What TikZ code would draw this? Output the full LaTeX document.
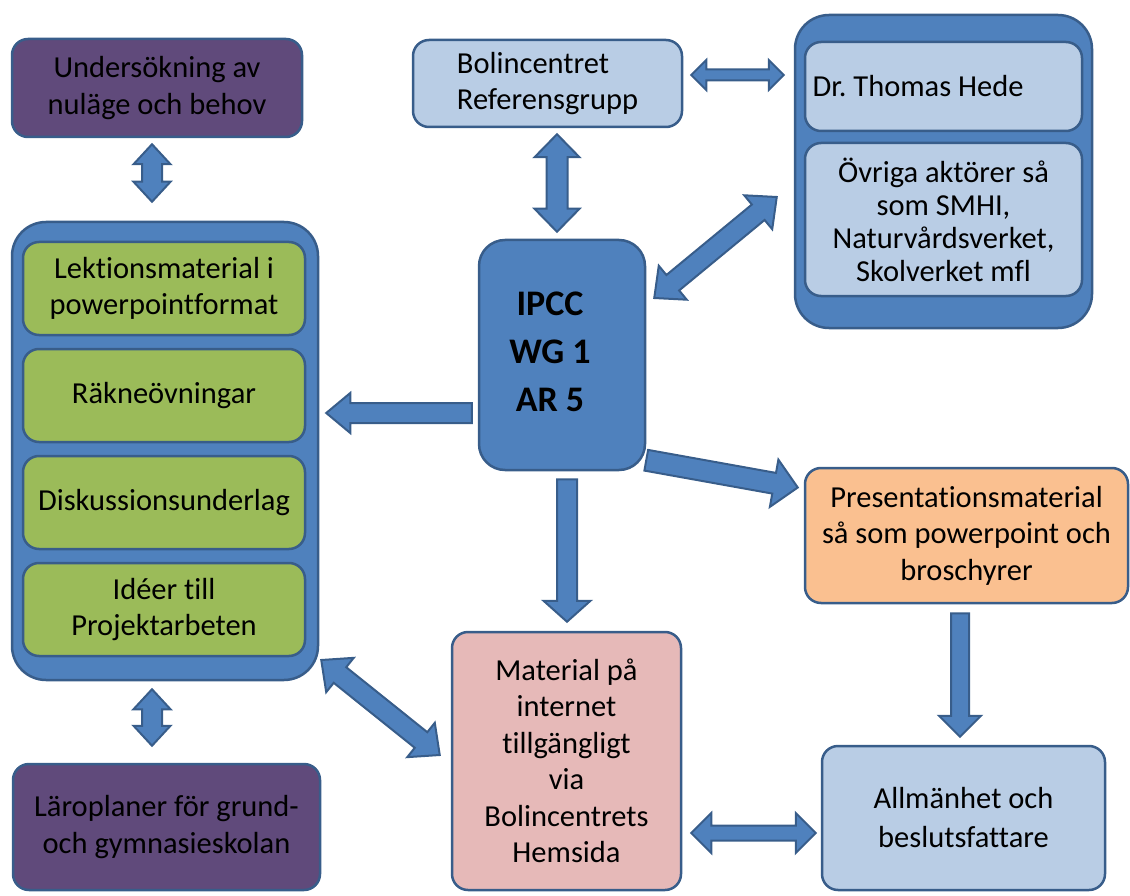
\documentclass[tikz,border=0pt]{standalone}
\usepackage{fontspec}
\setmainfont{Carlito}[Ligatures=NoCommon]
\usetikzlibrary{calc}
\definecolor{bordc}{HTML}{385D8A}
\definecolor{bluef}{HTML}{4F81BD}
\definecolor{purpf}{HTML}{604A7B}
\definecolor{greenf}{HTML}{9BBB59}
\definecolor{lbluef}{HTML}{B9CDE5}
\definecolor{orangef}{HTML}{FAC090}
\definecolor{pinkf}{HTML}{E6B9B8}
\tikzset{
  box/.style={draw=bordc, line width=2.5pt, rounded corners=16pt, align=center,
    inner sep=0pt, text=black, font=\fontsize{30.5}{36.5}\selectfont},
  bigbox/.style={box, fill=bluef, rounded corners=34pt},
  blockarrow/.style={fill=bluef, draw=bordc, line width=2pt, line join=miter},
}
% double block arrow: from, to, shaft half width, head half width, head length
\newcommand\dblarrow[5]{%
  \draw[blockarrow] let \p1=($(#2)-(#1)$), \n1={atan2(\y1,\x1)} in
    (#1) -- ($(#1)+(\n1:#5)+({\n1+90}:#4)$) -- ($(#1)+(\n1:#5)+({\n1+90}:#3)$)
    -- ($(#2)+({\n1+180}:#5)+({\n1+90}:#3)$) -- ($(#2)+({\n1+180}:#5)+({\n1+90}:#4)$)
    -- (#2) -- ($(#2)+({\n1+180}:#5)+({\n1-90}:#4)$) -- ($(#2)+({\n1+180}:#5)+({\n1-90}:#3)$)
    -- ($(#1)+(\n1:#5)+({\n1-90}:#3)$) -- ($(#1)+(\n1:#5)+({\n1-90}:#4)$) -- cycle;}
% single block arrow
\newcommand\onearrow[5]{%
  \draw[blockarrow] let \p1=($(#2)-(#1)$), \n1={atan2(\y1,\x1)} in
    ($(#1)+({\n1+90}:#3)$)
    -- ($(#2)+({\n1+180}:#5)+({\n1+90}:#3)$) -- ($(#2)+({\n1+180}:#5)+({\n1+90}:#4)$)
    -- (#2) -- ($(#2)+({\n1+180}:#5)+({\n1-90}:#4)$) -- ($(#2)+({\n1+180}:#5)+({\n1-90}:#3)$)
    -- ($(#1)+({\n1-90}:#3)$) -- cycle;}
\begin{document}
\begin{tikzpicture}[x=1pt,y=-1pt]
\useasboundingbox (0,0) rectangle (1130,896);
% left column
\node[box, fill=purpf, minimum width=290pt, minimum height=98pt] (und) at (157,88)
  {Undersökning av\\nuläge och behov};
\node[bigbox, minimum width=306pt, minimum height=458pt] (cont) at (165,451) {};
\node[box, fill=greenf, minimum width=282pt, minimum height=93pt] (g1) at (164,288.5)
  {Lektionsmaterial i\\powerpointformat};
\node[box, fill=greenf, minimum width=282pt, minimum height=93pt] (g2) at (164,395.5)
  {Räkneövningar};
\node[box, fill=greenf, minimum width=282pt, minimum height=93pt] (g3) at (164,502.5)
  {Diskussionsunderlag};
\node[box, fill=greenf, minimum width=282pt, minimum height=93pt] (g4) at (164,609.5)
  {Idéer till\\Projektarbeten};
\node[box, fill=purpf, minimum width=307pt, minimum height=126pt] (lar) at (166.5,827)
  {Läroplaner för grund-\\och gymnasieskolan};
% top middle
\node[box, fill=lbluef, minimum width=269pt, minimum height=87pt, align=left] (bol) at (547.5,83.5)
  {Bolincentret\\Referensgrupp};
% right container
\node[bigbox, minimum width=297pt, minimum height=313pt] (rc) at (943.5,171.5) {};
\node[box, fill=lbluef, minimum width=277pt, minimum height=89pt] (dr) at (943.5,86.5)
  {\frenchspacing\makebox[262pt][l]{Dr. Thomas Hede}};
\node[box, fill=lbluef, minimum width=277pt, minimum height=153pt, font=\fontsize{30.5}{33}\selectfont] (ov) at (943.5,219.5)
  {Övriga aktörer så\\som SMHI,\\Naturvårdsverket,\\Skolverket mfl};
% IPCC
\node[box, fill=bluef, rounded corners=26pt, minimum width=166pt, minimum height=230pt] (ipcc) at (562,355) {};
\node[font=\bfseries\fontsize{36}{48}\selectfont, align=center, inner sep=0pt] (ipcct) at (550,352)
  {IPCC\\WG 1\\AR 5};
% lower right
\node[box, fill=orangef, minimum width=323pt, minimum height=135pt] (pres) at (966.5,535.5)
  {Presentationsmaterial\\så som powerpoint och\\broschyrer};
\node[box, fill=pinkf, minimum width=229pt, minimum height=258pt] (mat) at (566.5,761)
  {Material på\\internet\\tillgängligt\\via\\Bolincentrets\\Hemsida};
\node[box, fill=lbluef, minimum width=283pt, minimum height=144pt, font=\fontsize{30.5}{39}\selectfont] (allm) at (963.5,818)
  {Allmänhet och\\beslutsfattare};
% connector end points
\coordinate (u1) at ($(und.south)+(-5,6)$);
\coordinate (u2) at ($(cont.north)+(-13,-19)$);
\coordinate (l1) at ($(cont.south)+(-13,8)$);
\coordinate (l2) at ($(lar.north)+(-14.5,-17)$);
\coordinate (b1) at ($(bol.south)+(9.5,6)$);
\coordinate (b2) at ($(ipcc.north)+(-5,-7)$);
\coordinate (br1) at ($(bol.east)+(8,-8.5)$);
\coordinate (br2) at ($(rc.west)+(-10,-96.5)$);
\coordinate (io1) at ($(ipcc.east)+(8,-57)$);
\coordinate (io2) at ($(rc.west)+(-17,25.5)$);
\coordinate (ic1) at ($(ipcc.west)+(-6,58)$);
\coordinate (ic2) at ($(cont.east)+(7,-38)$);
\coordinate (im1) at ($(ipcc.south)+(5,8)$);
\coordinate (im2) at ($(mat.north)+(0.5,-9)$);
\coordinate (ip1) at ($(ipcc.south east)+(0,-11)$);
\coordinate (ip2) at ($(pres.west)+(-6,-48)$);
\coordinate (pa1) at ($(pres.south)+(-6.5,9)$);
\coordinate (pa2) at ($(allm.north)+(-3.5,-8)$);
\coordinate (ma1) at ($(mat.east)+(9,72)$);
\coordinate (ma2) at ($(allm.west)+(-5,15)$);
\coordinate (cm1) at ($(cont.east)+(2,209)$);
\coordinate (cm2) at ($(mat.west)+(-11,-6)$);
% connectors
\dblarrow{u1}{u2}{10pt}{18.5pt}{20pt}
\dblarrow{l1}{l2}{10pt}{18.5pt}{20pt}
\dblarrow{b1}{b2}{10.5pt}{22.5pt}{23pt}
\dblarrow{br1}{br2}{5.5pt}{15pt}{15pt}
\dblarrow{io1}{io2}{10pt}{22pt}{24pt}
\dblarrow{cm1}{cm2}{10pt}{22pt}{24pt}
\dblarrow{ma1}{ma2}{7.5pt}{20pt}{20pt}
\onearrow{ic1}{ic2}{10pt}{20pt}{24pt}
\onearrow{im1}{im2}{10pt}{23.5pt}{21pt}
\onearrow{ip1}{ip2}{10.5pt}{24pt}{24pt}
\onearrow{pa1}{pa2}{9pt}{21pt}{21pt}
\end{tikzpicture}
\end{document}
